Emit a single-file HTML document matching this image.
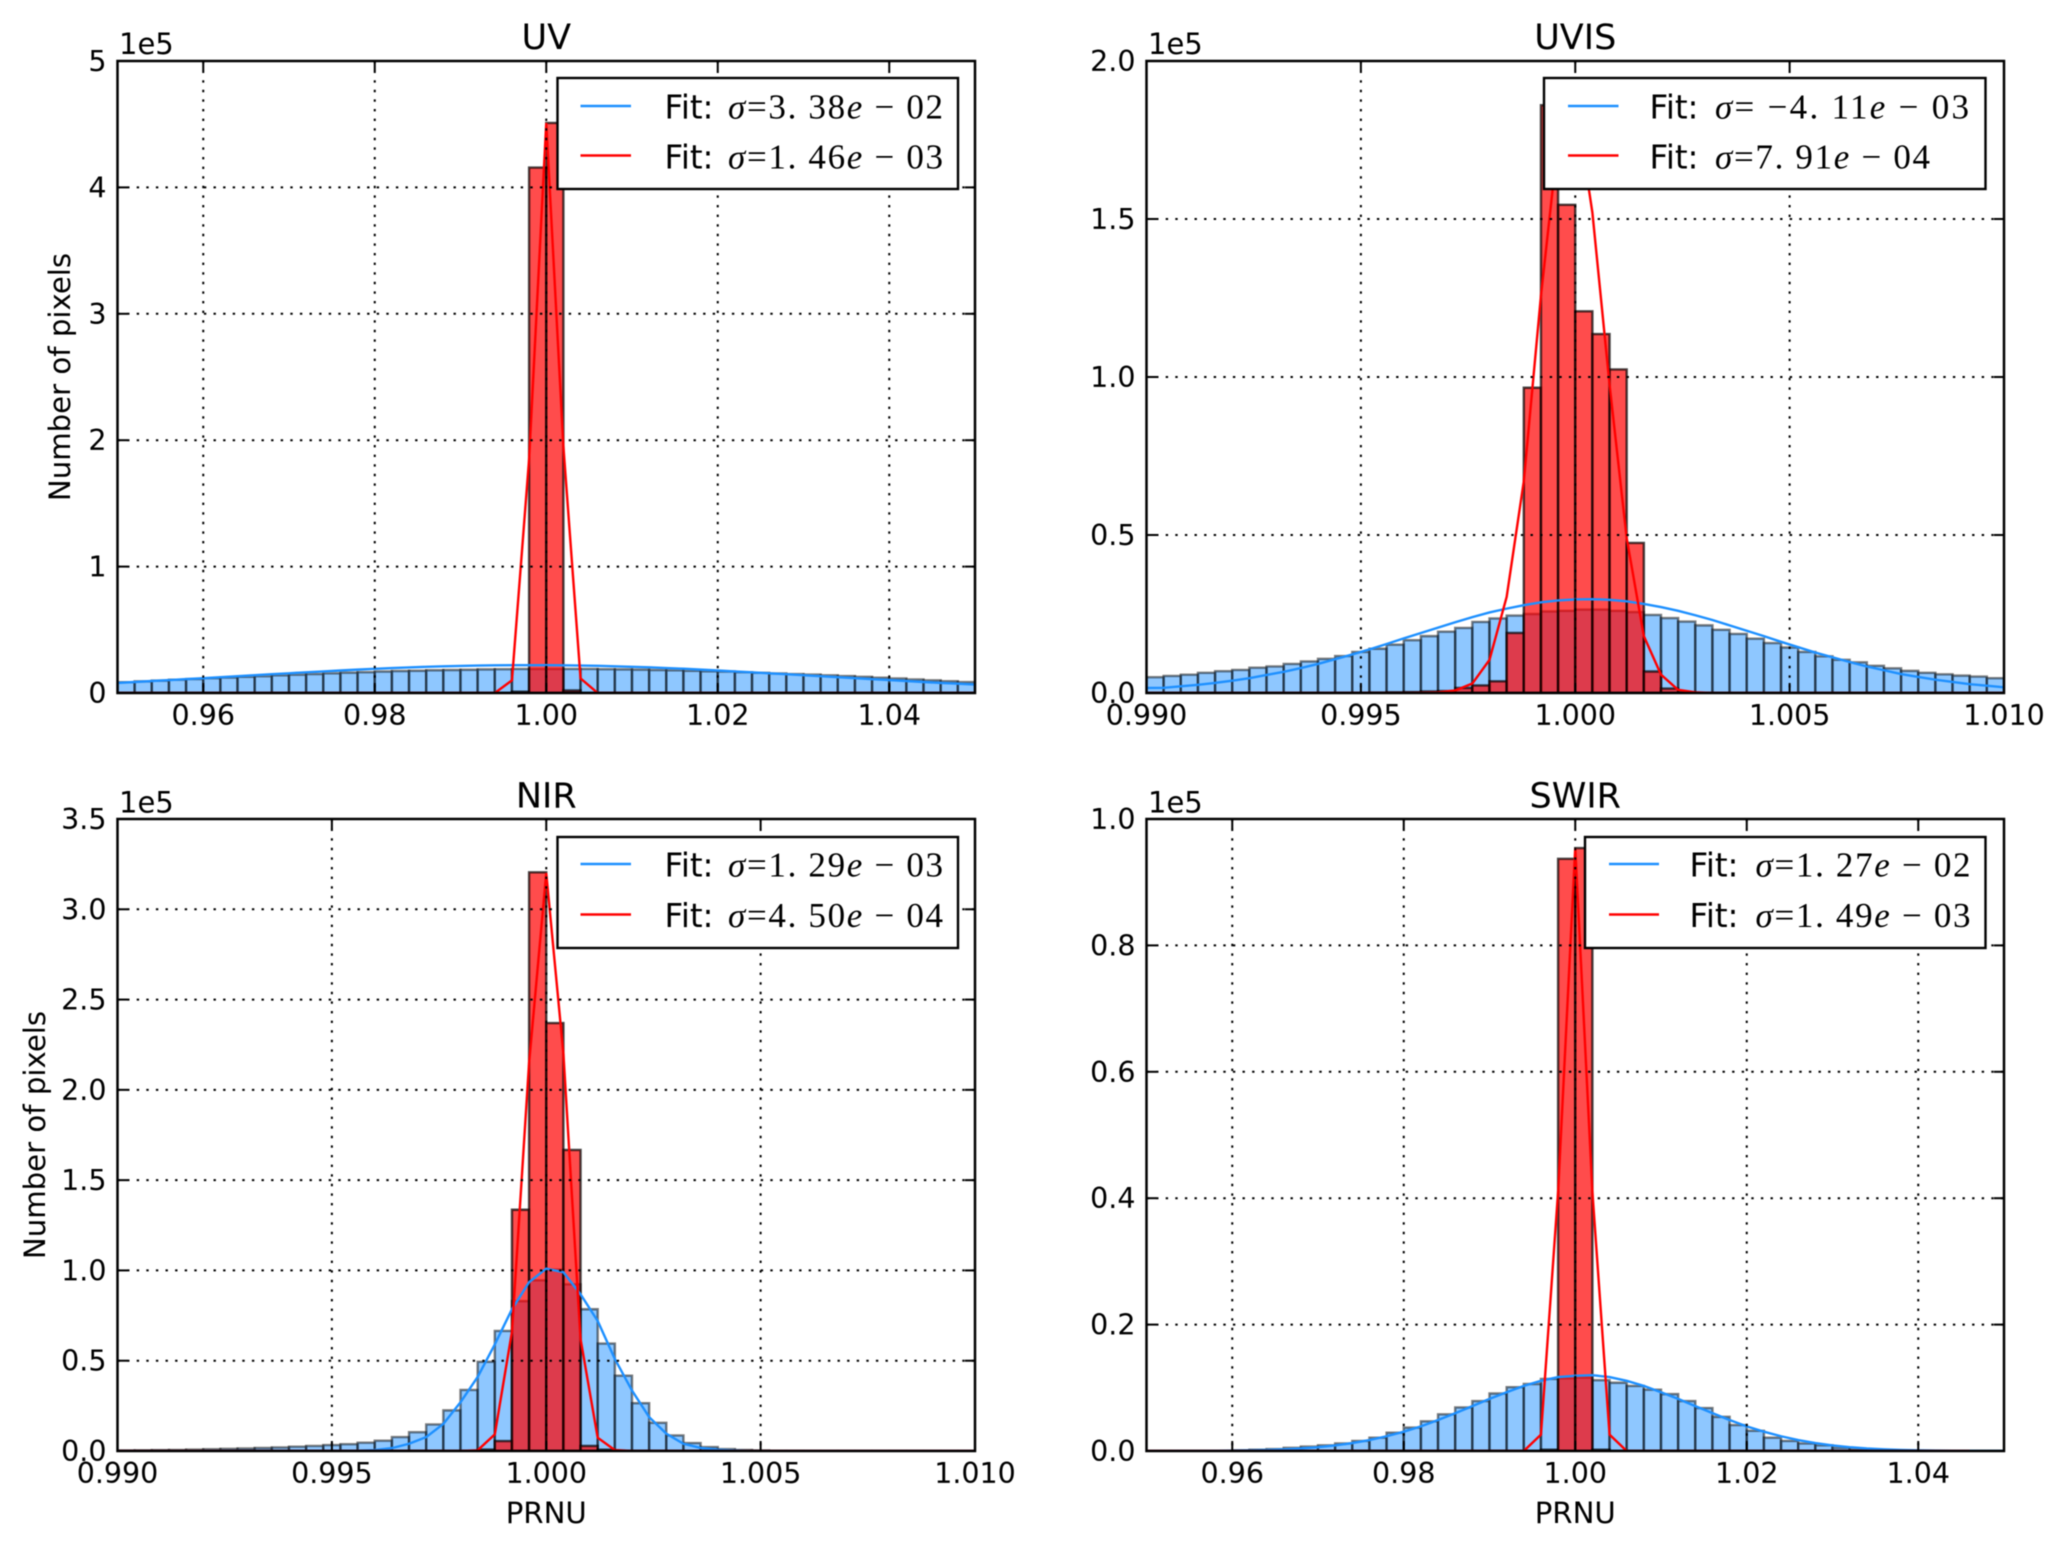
<!DOCTYPE html>
<html lang="en">
<head>
<meta charset="utf-8">
<title>PRNU histograms</title>
<style>
html,body{margin:0;padding:0;background:#fff;}
svg{display:block;}
text{font-family:"DejaVu Sans","Liberation Sans",sans-serif;fill:#000;}
.tick{font-size:28.5px;}
.ttl{font-size:35px;text-anchor:middle;}
.lab{font-size:29.2px;text-anchor:middle;}
.off{font-size:29px;}
.fit{font-size:32.5px;}
.math{font-family:"Liberation Serif",serif;font-size:35px;}
.math tspan.i{font-style:italic;}
.leg{fill:#fff;stroke:#000;stroke-width:2.4;}
.frame{fill:none;stroke:#000;stroke-width:2.5;}
#figure-content{filter:blur(0.5px);}
</style>
</head>
<body>
<svg xmlns="http://www.w3.org/2000/svg" width="2067" height="1548" viewBox="0 0 2067 1548">
<rect width="2067" height="1548" fill="#fff"/>
<defs>
<clipPath id="clip-uv"><rect x="117.5" y="61" width="857.5" height="632"/></clipPath>
<clipPath id="clip-uvis"><rect x="1146.5" y="61" width="857.5" height="632"/></clipPath>
<clipPath id="clip-nir"><rect x="117.5" y="819" width="857.5" height="632"/></clipPath>
<clipPath id="clip-swir"><rect x="1146.5" y="819" width="857.5" height="632"/></clipPath>
</defs>
<g id="figure-content">

<g>
<g id="uv-marks" clip-path="url(#clip-uv)"></g>
<rect class="frame" x="117.5" y="61" width="857.5" height="632"/>
<g id="uv-axes"></g>
<text class="ttl" x="546.25" y="49">UV</text>
<text class="off" x="119" y="54">1e5</text>
<text class="lab" transform="translate(70,377) rotate(-90)">Number of pixels</text>
<g>
<rect class="leg" x="557.5" y="78" width="400.5" height="111"/>
<line x1="580.5" x2="631" y1="106" y2="106" stroke="#1e90ff" stroke-width="2.4"/>
<text class="fit" x="664.5" y="118.5" textLength="49">Fit:</text>
<text class="math" x="728" y="118.5" textLength="215"><tspan class="i">σ</tspan>=3. 38<tspan class="i">e</tspan> − 02</text>
<line x1="580.5" x2="631" y1="155.5" y2="155.5" stroke="#f00" stroke-width="2.4"/>
<text class="fit" x="664.5" y="168.5" textLength="49">Fit:</text>
<text class="math" x="728" y="168.5" textLength="215"><tspan class="i">σ</tspan>=1. 46<tspan class="i">e</tspan> − 03</text>
</g>
</g>

<g>
<g id="uvis-marks" clip-path="url(#clip-uvis)"></g>
<rect class="frame" x="1146.5" y="61" width="857.5" height="632"/>
<g id="uvis-axes"></g>
<text class="ttl" x="1575.25" y="49">UVIS</text>
<text class="off" x="1148" y="54">1e5</text>
<g>
<rect class="leg" x="1544" y="78" width="441.5" height="111"/>
<line x1="1568" x2="1618.5" y1="106" y2="106" stroke="#1e90ff" stroke-width="2.4"/>
<text class="fit" x="1649.5" y="118.5" textLength="49">Fit:</text>
<text class="math" x="1715" y="118.5" textLength="254"><tspan class="i">σ</tspan>= −4. 11<tspan class="i">e</tspan> − 03</text>
<line x1="1568" x2="1618.5" y1="155.5" y2="155.5" stroke="#f00" stroke-width="2.4"/>
<text class="fit" x="1649.5" y="168.5" textLength="49">Fit:</text>
<text class="math" x="1715" y="168.5" textLength="215"><tspan class="i">σ</tspan>=7. 91<tspan class="i">e</tspan> − 04</text>
</g>
</g>

<g>
<g id="nir-marks" clip-path="url(#clip-nir)"></g>
<rect class="frame" x="117.5" y="819" width="857.5" height="632"/>
<g id="nir-axes"></g>
<text class="ttl" x="546.25" y="807.5">NIR</text>
<text class="off" x="119" y="812.5">1e5</text>
<text class="lab" transform="translate(45,1135) rotate(-90)">Number of pixels</text>
<text class="lab" x="546.25" y="1523">PRNU</text>
<g>
<rect class="leg" x="557.5" y="837" width="400.5" height="111"/>
<line x1="580.5" x2="631" y1="864" y2="864" stroke="#1e90ff" stroke-width="2.4"/>
<text class="fit" x="664.5" y="876.5" textLength="49">Fit:</text>
<text class="math" x="728" y="876.5" textLength="215"><tspan class="i">σ</tspan>=1. 29<tspan class="i">e</tspan> − 03</text>
<line x1="580.5" x2="631" y1="914.5" y2="914.5" stroke="#f00" stroke-width="2.4"/>
<text class="fit" x="664.5" y="927" textLength="49">Fit:</text>
<text class="math" x="728" y="927" textLength="215"><tspan class="i">σ</tspan>=4. 50<tspan class="i">e</tspan> − 04</text>
</g>
</g>

<g>
<g id="swir-marks" clip-path="url(#clip-swir)"></g>
<rect class="frame" x="1146.5" y="819" width="857.5" height="632"/>
<g id="swir-axes"></g>
<text class="ttl" x="1575.25" y="807.5">SWIR</text>
<text class="off" x="1148" y="812.5">1e5</text>
<text class="lab" x="1575.25" y="1523">PRNU</text>
<g>
<rect class="leg" x="1585" y="837" width="400.5" height="111"/>
<line x1="1609" x2="1659" y1="864" y2="864" stroke="#1e90ff" stroke-width="2.4"/>
<text class="fit" x="1689.5" y="876.5" textLength="49">Fit:</text>
<text class="math" x="1755.5" y="876.5" textLength="215"><tspan class="i">σ</tspan>=1. 27<tspan class="i">e</tspan> − 02</text>
<line x1="1609" x2="1659" y1="914.5" y2="914.5" stroke="#f00" stroke-width="2.4"/>
<text class="fit" x="1689.5" y="927" textLength="49">Fit:</text>
<text class="math" x="1755.5" y="927" textLength="215"><tspan class="i">σ</tspan>=1. 49<tspan class="i">e</tspan> − 03</text>
</g>
</g>
</g>
</svg>

<script>
// Histogram counts (units of 1e5 pixels), 50 bins per panel; fits sampled at 51 bin edges.
const uvBlueBars = [.085,.092,.098,.105,.110,.117,.122,.128,.133,.140,.145,.150,.156,.161,.165,.170,.174,.176,.180,.182,.184,.187,.188,.190,.190,.190,.190,.190,.188,.187,.185,.182,.180,.176,.172,.170,.165,.160,.155,.150,.146,.140,.134,.128,.121,.115,.107,.100,.093,.086];
const uvRedBars = [0,0,0,0,0,0,0,0,0,0,0,0,0,0,0,0,0,0,0,0,0,0,0,.01,4.157,4.51,.02,0,0,0,0,0,0,0,0,0,0,0,0,0,0,0,0,0,0,0,0,0,0,0];
const uvBlueFit = [.080,.087,.095,.102,.110,.117,.125,.133,.141,.149,.156,.164,.171,.178,.185,.191,.197,.202,.207,.211,.214,.217,.219,.220,.220,.220,.219,.217,.215,.211,.207,.203,.197,.192,.185,.178,.171,.164,.156,.149,.141,.133,.125,.117,.109,.102,.095,.087,.080,.074,.067];
const uvRedFit = [0,0,0,0,0,0,0,0,0,0,0,0,0,0,0,0,0,0,0,0,0,0,0,.1,1.85,4.51,1.95,.115,0,0,0,0,0,0,0,0,0,0,0,0,0,0,0,0,0,0,0,0,0,0,0];
const uvXTicks = [0.96,0.98,1.00,1.02,1.04];
const uvXLabels = ["0.96","0.98","1.00","1.02","1.04"];
const uvYTicks = [0,1,2,3,4,5];
const uvYLabels = ["0","1","2","3","4","5"];

const uvisBlueBars = [.05,.054,.058,.064,.069,.073,.08,.084,.092,.10,.108,.117,.13,.14,.153,.167,.18,.194,.206,.225,.236,.245,.25,.258,.26,.264,.264,.26,.256,.247,.237,.226,.214,.2,.187,.172,.158,.144,.13,.116,.105,.097,.086,.078,.07,.064,.059,.055,.052,.047];
const uvisRedBars = [0,0,0,0,0,0,0,0,0,0,0,.0005,.001,.0015,.002,.003,.005,.006,.016,.024,.037,.19,.966,1.86,1.545,1.208,1.136,1.024,.475,.068,.014,.002,0,0,0,0,0,0,0,0,0,0,0,0,0,0,0,0,0,0];
const uvisBlueFit = [.016,.0165,.021,.026,.032,.039,.047,.057,.067,.079,.092,.107,.122,.138,.155,.173,.19,.207,.224,.24,.255,.267,.278,.287,.293,.296,.297,.295,.29,.282,.272,.26,.246,.231,.214,.197,.18,.162,.145,.128,.113,.098,.084,.072,.06,.051,.042,.035,.028,.023,.018];
const uvisRedFit = [0,0,0,0,0,0,0,0,0,0,0,0,0,0,0,0,.001,.002,.008,.03,.105,.304,.67,1.257,1.75,1.88,1.52,.976,.49,.18,.058,.01,.002,0,0,0,0,0,0,0,0,0,0,0,0,0,0,0,0,0,0];
const uvisXTicks = [0.990,0.995,1.000,1.005,1.010];
const uvisXLabels = ["0.990","0.995","1.000","1.005","1.010"];
const uvisYTicks = [0,0.5,1,1.5,2];
const uvisYLabels = ["0.0","0.5","1.0","1.5","2.0"];

const nirBlueBars = [.003,.004,.005,.006,.008,.01,.012,.014,.017,.02,.024,.028,.033,.038,.046,.057,.077,.104,.147,.225,.338,.494,.665,.83,.945,1.005,.923,.785,.595,.417,.265,.156,.086,.044,.022,.011,.006,.003,.002,.001,.0005,.0005,.0005,.0005,.0005,.0005,.0005,.0005,.0005,.0005];
const nirRedBars = [0,0,0,0,0,0,0,0,0,0,0,0,0,0,0,0,0,0,0,0,0,.008,.055,1.336,3.205,2.37,1.667,.028,.007,0,0,0,0,0,0,0,0,0,0,0,0,0,0,0,0,0,0,0,0,0];
const nirBlueFit = [0,0,0,0,0,0,0,0,0,0,0,0,0,.001,.002,.005,.016,.04,.077,.15,.27,.41,.59,.785,.935,1.01,.99,.868,.72,.51,.335,.188,.096,.04,.017,.007,.003,.001,0,0,0,0,0,0,0,0,0,0,0,0,0];
const nirRedFit = [0,0,0,0,0,0,0,0,0,0,0,0,0,0,0,0,0,0,0,0,0,.004,.092,.66,2.15,3.2,2.2,.62,.0735,.005,0,0,0,0,0,0,0,0,0,0,0,0,0,0,0,0,0,0,0,0,0];
const nirXTicks = [0.990,0.995,1.000,1.005,1.010];
const nirXLabels = ["0.990","0.995","1.000","1.005","1.010"];
const nirYTicks = [0,0.5,1,1.5,2,2.5,3,3.5];
const nirYLabels = ["0.0","0.5","1.0","1.5","2.0","2.5","3.0","3.5"];

const swirBlueBars = [0,0,0,0,.0005,.001,.002,.003,.005,.007,.009,.012,.016,.021,.029,.037,.047,.058,.069,.079,.091,.101,.106,.114,.115,.116,.112,.108,.103,.097,.09,.079,.068,.054,.041,.032,.021,.016,.012,.009,.005,.003,.002,.001,.0005,0,0,0,0,0];
const swirRedBars = [0,0,0,0,0,0,0,0,0,0,0,0,0,0,0,0,0,0,0,0,0,0,0,.002,.937,.954,.002,0,0,0,0,0,0,0,0,0,0,0,0,0,0,0,0,0,0,0,0,0,0,0];
const swirBlueFit = [0,.0001,.0002,.0003,.0004,.0007,.001,.0017,.0027,.0041,.0061,.0088,.0125,.0173,.0233,.0306,.039,.049,.0597,.071,.0825,.093,.103,.111,.117,.119,.12,.117,.111,.103,.093,.0825,.071,.06,.049,.039,.0306,.0233,.0173,.0125,.0088,.0061,.0041,.0027,.0017,.001,.0007,.0004,.0002,.0001,0];
const swirRedFit = [0,0,0,0,0,0,0,0,0,0,0,0,0,0,0,0,0,0,0,0,0,0,0,.026,.41,.954,.41,.026,0,0,0,0,0,0,0,0,0,0,0,0,0,0,0,0,0,0,0,0,0];
const swirXTicks = [0.96,0.98,1.00,1.02,1.04];
const swirXLabels = ["0.96","0.98","1.00","1.02","1.04"];
const swirYTicks = [0,0.2,0.4,0.6,0.8,1];
const swirYLabels = ["0.0","0.2","0.4","0.6","0.8","1.0"];

const NS = "http://www.w3.org/2000/svg";
const W = 857.5, H = 632, TICK = 10;

function mk(parent, tag, attrs) {
  const el = document.createElementNS(NS, tag);
  for (const k in attrs) el.setAttribute(k, attrs[k]);
  parent.appendChild(el);
  return el;
}

function drawPanel(id, left, top, xMin, xMax, yMax, blueBars, redBars, blueFit, redFit, xTicks, xLabels, yTicks, yLabels) {
  const marks = document.getElementById(id + "-marks");
  const axes = document.getElementById(id + "-axes");
  const xs = v => left + (v - xMin) / (xMax - xMin) * W;
  const ys = v => top + H - v / yMax * H;
  const binW = (xMax - xMin) / blueBars.length;

  function bars(values, fill, fillOp, strokeOp, label) {
    values.forEach((v, i) => {
      const x0 = xs(xMin + i * binW), x1 = xs(xMin + (i + 1) * binW), y0 = ys(0), y1 = ys(v);
      const el = mk(marks, "path", {
        d: "M" + x0 + " " + y0 + "V" + y1 + "H" + x1 + "V" + y0 + "Z",
        fill: fill, "fill-opacity": fillOp, stroke: "#000", "stroke-opacity": strokeOp, "stroke-width": 2.4
      });
      
      
    });
  }
  bars(blueBars, "#1e90ff", 0.5, 0.5, id + "-blue-bar");
  bars(redBars, "#ff0000", 0.7, 0.7, id + "-red-bar");

  function fitLine(values, color, label) {
    const pts = values.map((v, i) => xs(xMin + i * binW).toFixed(2) + "," + ys(v).toFixed(2)).join(" ");
    const el = mk(marks, "polyline", { points: pts, fill: "none", stroke: color, "stroke-width": 2.4, "stroke-linejoin": "miter" });
    
    
  }
  fitLine(blueFit, "#1e90ff", id + "-blue-fit-line");
  fitLine(redFit, "#ff0000", id + "-red-fit-line");

  xTicks.forEach((t, i) => {
    const x = xs(t);
    const grid = mk(marks, "line", { x1: x, x2: x, y1: top, y2: top + H, stroke: "#000", "stroke-width": 2, "stroke-dasharray": "2.4 7.2" });
    
    
    const t1 = mk(axes, "line", { x1: x, x2: x, y1: top + H, y2: top + H - TICK, stroke: "#000", "stroke-width": 2 });
    
    
    const t2 = mk(axes, "line", { x1: x, x2: x, y1: top, y2: top + TICK, stroke: "#000", "stroke-width": 2 });
    
    
    const lab = mk(axes, "text", { class: "tick", x: x, y: top + H + 32, "text-anchor": "middle" });
    lab.textContent = xLabels[i];
    
    
  });

  yTicks.forEach((t, i) => {
    const y = ys(t);
    const grid = mk(marks, "line", { x1: left, x2: left + W, y1: y, y2: y, stroke: "#000", "stroke-width": 2, "stroke-dasharray": "2.4 7.2" });
    
    
    const t1 = mk(axes, "line", { x1: left, x2: left + TICK, y1: y, y2: y, stroke: "#000", "stroke-width": 2 });
    
    
    const t2 = mk(axes, "line", { x1: left + W, x2: left + W - TICK, y1: y, y2: y, stroke: "#000", "stroke-width": 2 });
    
    
    const lab = mk(axes, "text", { class: "tick", x: left - 11, y: y + 10, "text-anchor": "end" });
    lab.textContent = yLabels[i];
    
    
  });
}

drawPanel("uv", 117.5, 61, 0.95, 1.05, 5, uvBlueBars, uvRedBars, uvBlueFit, uvRedFit, uvXTicks, uvXLabels, uvYTicks, uvYLabels);
drawPanel("uvis", 1146.5, 61, 0.99, 1.01, 2, uvisBlueBars, uvisRedBars, uvisBlueFit, uvisRedFit, uvisXTicks, uvisXLabels, uvisYTicks, uvisYLabels);
drawPanel("nir", 117.5, 819, 0.99, 1.01, 3.5, nirBlueBars, nirRedBars, nirBlueFit, nirRedFit, nirXTicks, nirXLabels, nirYTicks, nirYLabels);
drawPanel("swir", 1146.5, 819, 0.95, 1.05, 1, swirBlueBars, swirRedBars, swirBlueFit, swirRedFit, swirXTicks, swirXLabels, swirYTicks, swirYLabels);
</script>
</body>
</html>
